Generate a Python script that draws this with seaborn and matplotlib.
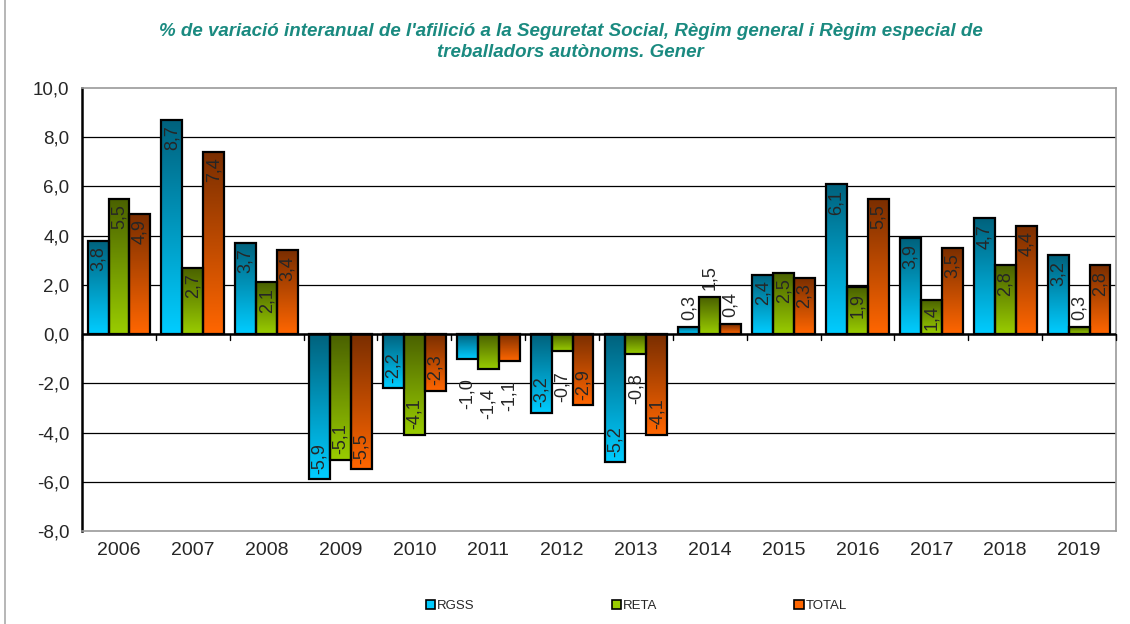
import numpy as np
import pandas as pd
import matplotlib
matplotlib.use("Agg")
import matplotlib.pyplot as plt
import matplotlib.colors as mcolors
from matplotlib.patches import Patch
import seaborn as sns

# Data
years = ["2006", "2007", "2008", "2009", "2010", "2011", "2012",
         "2013", "2014", "2015", "2016", "2017", "2018", "2019"]
rgss = [3.8, 8.7, 3.7, -5.9, -2.2, -1.0, -3.2, -5.2, 0.3, 2.4, 6.1, 3.9, 4.7, 3.2]
reta = [5.5, 2.7, 2.1, -5.1, -4.1, -1.4, -0.7, -0.8, 1.5, 2.5, 1.9, 1.4, 2.8, 0.3]
total = [4.9, 7.4, 3.4, -5.5, -2.3, -1.1, -2.9, -4.1, 0.4, 2.3, 5.5, 3.5, 4.4, 2.8]
series = ["RGSS", "RETA", "TOTAL"]
yticks = np.arange(-8, 10.1, 2)

# gradient colours: (top, bottom)
grad = {
    "RGSS": ("#00627d", "#00ccff"),
    "RETA": ("#4a6100", "#99cc00"),
    "TOTAL": ("#7a2e00", "#ff6600"),
}

df = pd.DataFrame({"year": years, "RGSS": rgss, "RETA": reta, "TOTAL": total})
long = df.melt(id_vars="year", var_name="serie", value_name="valor")

sns.set_style("white")
plt.rcParams["font.family"] = ["Liberation Sans", "DejaVu Sans"]

fig = plt.figure(figsize=(11.3, 6.24), dpi=100)
ax = fig.add_axes([0.0726, 0.149, 0.915, 0.710])

sns.barplot(data=long, x="year", y="valor", hue="serie", hue_order=series,
            palette=[grad[s][1] for s in series], width=0.85, gap=0,
            edgecolor="black", linewidth=1.6, legend=False, ax=ax, zorder=3)

# gradient fills clipped to every bar
n = len(years)
for i, bar in enumerate(ax.patches[:3 * n]):
    s = series[i // n]
    top, bot = mcolors.to_rgb(grad[s][0]), mcolors.to_rgb(grad[s][1])
    t = np.linspace(0, 1, 64)[:, None, None]
    img = np.array(top)[None, None, :] * (1 - t) + np.array(bot)[None, None, :] * t
    x0, y0 = bar.get_x(), bar.get_y()
    w, h = bar.get_width(), bar.get_height()
    ymin, ymax = min(y0, y0 + h), max(y0, y0 + h)
    im = ax.imshow(img, extent=(x0, x0 + w, ymin, ymax), origin="upper",
                   aspect="auto", zorder=2.9, interpolation="bilinear")
    im.set_clip_path(bar)
    bar.set_facecolor("none")

ax.set_ylim(-8, 10)
ax.set_xlim(-0.5, len(years) - 0.5)

# value labels
vals = {"RGSS": rgss, "RETA": reta, "TOTAL": total}
for i, bar in enumerate(ax.patches[:3 * n]):
    s = series[i // n]
    j = i % n
    v = vals[s][j]
    gmax = max(abs(rgss[j]), abs(reta[j]), abs(total[j]))
    inside = abs(v) >= 1.4 and gmax >= 2
    xc = bar.get_x() + bar.get_width() / 2
    lab = f"{v:.1f}".replace(".", ",")
    if inside:
        off, va = (-4, "top") if v > 0 else (4, "bottom")
    else:
        off, va = (5, "bottom") if v > 0 else (-14, "top")
    ax.annotate(lab, (xc, v), xytext=(0, off), textcoords="offset points",
                rotation=90, ha="center", va=va, fontsize=13, zorder=5)

# axes styling
ax.set_yticks(yticks)
ax.set_yticklabels([f"{y:.1f}".replace(".", ",") for y in yticks], fontsize=13.5)
ax.tick_params(axis="y", direction="out", length=5, width=1.2, color="black", pad=4)
ax.tick_params(axis="x", length=0, labelsize=14, pad=8)
ax.set_xlabel("")
ax.set_ylabel("")
for y in yticks[1:-1]:
    ax.axhline(y, color="black", lw=0.9, zorder=1)
ax.axhline(0, color="black", lw=1.8, zorder=4)
for b in np.arange(-0.5, n, 1.0):
    ax.plot([b, b], [0, -0.22], color="black", lw=1.0, zorder=4, clip_on=False)
for side in ["top", "right", "bottom"]:
    ax.spines[side].set_color("#999999")
    ax.spines[side].set_linewidth(1.2)
ax.spines["left"].set_color("black")
ax.spines["left"].set_linewidth(1.8)

# title
fig.text(0.505, 0.932,
         "% de variació interanual de l'afilició a la Seguretat Social, Règim general i Règim especial de\ntreballadors autònoms. Gener",
         ha="center", va="center", fontsize=13.5, fontweight="bold", fontstyle="italic",
         color="#1a8a80", linespacing=1.3)

# legend
handles = [Patch(facecolor=grad[s][1], edgecolor="black", linewidth=1.2) for s in series]
fig.legend(handles, series, loc="center", bbox_to_anchor=(0.563, 0.029), ncol=3,
           frameon=False, fontsize=9.5, handlelength=0.7, handleheight=0.7,
           handletextpad=0.15, columnspacing=10.4)

# outer frame line at left
fig.add_artist(plt.Line2D([0.004, 0.004], [0, 1], color="#aaaaaa", lw=1.2))

fig.savefig("out.png", dpi=100)
